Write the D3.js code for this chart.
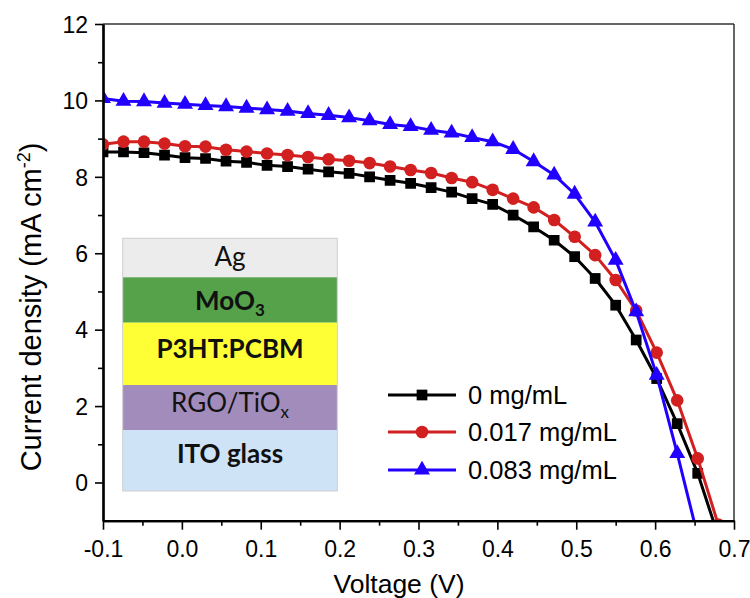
<!DOCTYPE html>
<html><head><meta charset="utf-8">
<script src="https://cdn.jsdelivr.net/npm/d3@7"></script>
<style>body{margin:0;background:#fff}svg{display:block}</style>
</head><body>
<svg id="chart" width="750" height="598"></svg>
<script>
// ---- data ----
const voltage = [-0.1,-0.074,-0.048,-0.022,0.004,0.030,0.056,0.082,0.108,0.134,0.160,0.186,0.212,0.238,0.264,0.290,0.316,0.342,0.368,0.394,0.420,0.446,0.472,0.498,0.524,0.550,0.576,0.602,0.628,0.654,0.680];
const j0 = [8.65,8.65,8.63,8.57,8.50,8.48,8.41,8.38,8.30,8.27,8.20,8.13,8.09,8.00,7.91,7.83,7.72,7.60,7.43,7.28,7.00,6.69,6.34,5.91,5.34,4.64,3.73,2.72,1.54,0.24,-1.40];
const j017 = [8.85,8.92,8.92,8.87,8.80,8.79,8.71,8.66,8.61,8.57,8.52,8.46,8.42,8.36,8.27,8.18,8.10,7.97,7.86,7.66,7.43,7.20,6.87,6.43,5.95,5.30,4.50,3.40,2.15,0.63,-1.10];
const j083 = [10.05,9.98,9.97,9.93,9.90,9.87,9.84,9.80,9.76,9.72,9.66,9.61,9.55,9.47,9.37,9.32,9.22,9.15,9.03,8.92,8.72,8.40,8.05,7.55,6.82,5.82,4.47,2.81,0.76,-1.40];
const seriesNames = ["0 mg/mL","0.017 mg/mL","0.083 mg/mL"];
const xTicks = [-0.1,0.0,0.1,0.2,0.3,0.4,0.5,0.6,0.7];
const xMinorTicks = [-0.05,0.05,0.15,0.25,0.35,0.45,0.55,0.65];
const yTicks = [0,2,4,6,8,10,12];
const yMinorTicks = [1,3,5,7,9,11];
const layers = ["Ag","MoO3","P3HT:PCBM","RGO/TiOx","ITO glass"];

const svg = d3.select("#chart");
const L=103,R=734,T=24,B=520.7;
const x = d3.scaleLinear().domain([-0.1,0.7]).range([L,R]);
const y = d3.scaleLinear().domain([-1,12]).range([B,T]);
const AX = "'Liberation Sans', Arial, sans-serif";

const series = [
  {name:seriesNames[0], vals:j0, color:"#000000", sym:d3.symbolSquare, size:115},
  {name:seriesNames[1], vals:j017, color:"#d21f1f", sym:d3.symbolCircle, size:125},
  {name:seriesNames[2], vals:j083, color:"#2200ff", sym:d3.symbolTriangle, size:110}
];

// ---- inset (device structure) ----
const insetX0 = 122.7, insetX1 = 337.3;
const bands = [
  {name:layers[0], y0:238.3, y1:277.3, fill:"#ececec", bold:false, base:265.5},
  {name:layers[1], y0:277.3, y1:322.7, fill:"#55a24b", bold:true, base:309.5, sub:"3"},
  {name:layers[2], y0:322.7, y1:385, fill:"#ffff35", bold:true, base:358},
  {name:layers[3], y0:385, y1:430, fill:"#a28cbb", bold:false, base:411.5, sub:"x"},
  {name:layers[4], y0:430, y1:491, fill:"#cfe3f7", bold:true, base:463}
];
const inset = svg.append("g");
bands.forEach(b=>{
  inset.append("rect").attr("x",insetX0).attr("y",b.y0).attr("width",insetX1-insetX0).attr("height",b.y1-b.y0).attr("fill",b.fill);
  const t = inset.append("text").attr("x",(insetX0+insetX1)/2).attr("y",b.base)
    .attr("text-anchor","middle").attr("font-family","Lato, 'Open Sans', sans-serif")
    .attr("font-size",26).attr("font-weight",b.bold?"bold":"normal").attr("fill","#111");
  if(b.sub){
    const main = b.name.slice(0,-1);
    t.append("tspan").text(main);
    t.append("tspan").attr("dy",6).attr("font-size",17).text(b.sub);
  } else t.text(b.name);
});
inset.append("rect").attr("x",insetX0).attr("y",238.3).attr("width",insetX1-insetX0).attr("height",491-238.3)
  .attr("fill","none").attr("stroke","#cfcfcf").attr("stroke-width",1);

// ---- curves ----
svg.append("clipPath").attr("id","clip").append("rect").attr("x",L).attr("y",T).attr("width",R-L).attr("height",B-T);
const plot = svg.append("g").attr("clip-path","url(#clip)");
const line = d3.line().x((d,i)=>x(voltage[i])).y(d=>y(d));
series.forEach(s=>{
  plot.append("path").attr("d",line(s.vals)).attr("fill","none").attr("stroke",s.color).attr("stroke-width",3).attr("stroke-linejoin","round");
  plot.selectAll(null).data(s.vals).enter().append("path")
    .attr("d",d3.symbol().type(s.sym).size(s.size))
    .attr("transform",(d,i)=>`translate(${x(voltage[i])},${y(d)})`)
    .attr("fill",s.color);
});

// ---- frame ----
svg.append("line").attr("x1",L).attr("x2",R).attr("y1",T).attr("y2",T).attr("stroke","#333").attr("stroke-width",1.5);
svg.append("line").attr("x1",R).attr("x2",R).attr("y1",T).attr("y2",B).attr("stroke","#333").attr("stroke-width",1.5);

// ---- axes ----
const fmt = d=> d3.format(".1f")(d).replace("\u2212","-");
const xAxis = svg.append("g").attr("transform",`translate(0,${B})`)
  .call(d3.axisBottom(x).tickValues(xTicks).tickFormat(fmt).tickSize(9).tickSizeOuter(0));
const xMinor = svg.append("g").attr("transform",`translate(0,${B})`)
  .call(d3.axisBottom(x).tickValues(xMinorTicks).tickFormat("").tickSize(5).tickSizeOuter(0));
const yAxis = svg.append("g").attr("transform",`translate(${L},0)`)
  .call(d3.axisLeft(y).tickValues(yTicks).tickSize(8).tickSizeOuter(0));
const yMinor = svg.append("g").attr("transform",`translate(${L},0)`)
  .call(d3.axisLeft(y).tickValues(yMinorTicks).tickFormat("").tickSize(5).tickSizeOuter(0));
[xAxis,xMinor,yAxis,yMinor].forEach(g=>{
  g.select(".domain").attr("stroke","#000").attr("stroke-width",2.2);
  g.selectAll(".tick line").attr("stroke","#000").attr("stroke-width",1.6);
  g.selectAll("text").attr("font-family",AX).attr("font-size",23).attr("fill","#000");
});
xAxis.selectAll(".tick text").attr("dy",null).attr("y",36);
yAxis.selectAll(".tick text").attr("x",-15).attr("dy","0.36em");

// ---- axis titles ----
svg.append("text").attr("x",399).attr("y",593).attr("text-anchor","middle")
  .attr("font-family",AX).attr("font-size",26.5).text("Voltage (V)");
const yt = svg.append("text").attr("transform","translate(41,307) rotate(-90)").attr("text-anchor","middle")
  .attr("font-family",AX).attr("font-size",29);
yt.append("tspan").text("Current density (mA cm");
yt.append("tspan").attr("dy",-11).attr("font-size",18).text("-2");
yt.append("tspan").attr("dy",11).text(")");

// ---- legend ----
const lg = svg.append("g");
const rows=[395,432,470];
series.forEach((s,i)=>{
  lg.append("line").attr("x1",388).attr("x2",456).attr("y1",rows[i]).attr("y2",rows[i]).attr("stroke",s.color).attr("stroke-width",3);
  lg.append("path").attr("d",d3.symbol().type(s.sym).size(s.size)).attr("transform",`translate(422,${rows[i]})`).attr("fill",s.color);
  lg.append("text").attr("x",468).attr("y",rows[i]).attr("dy","0.36em").attr("font-family",AX).attr("font-size",25.5).text(s.name);
});
</script>
</body></html>
